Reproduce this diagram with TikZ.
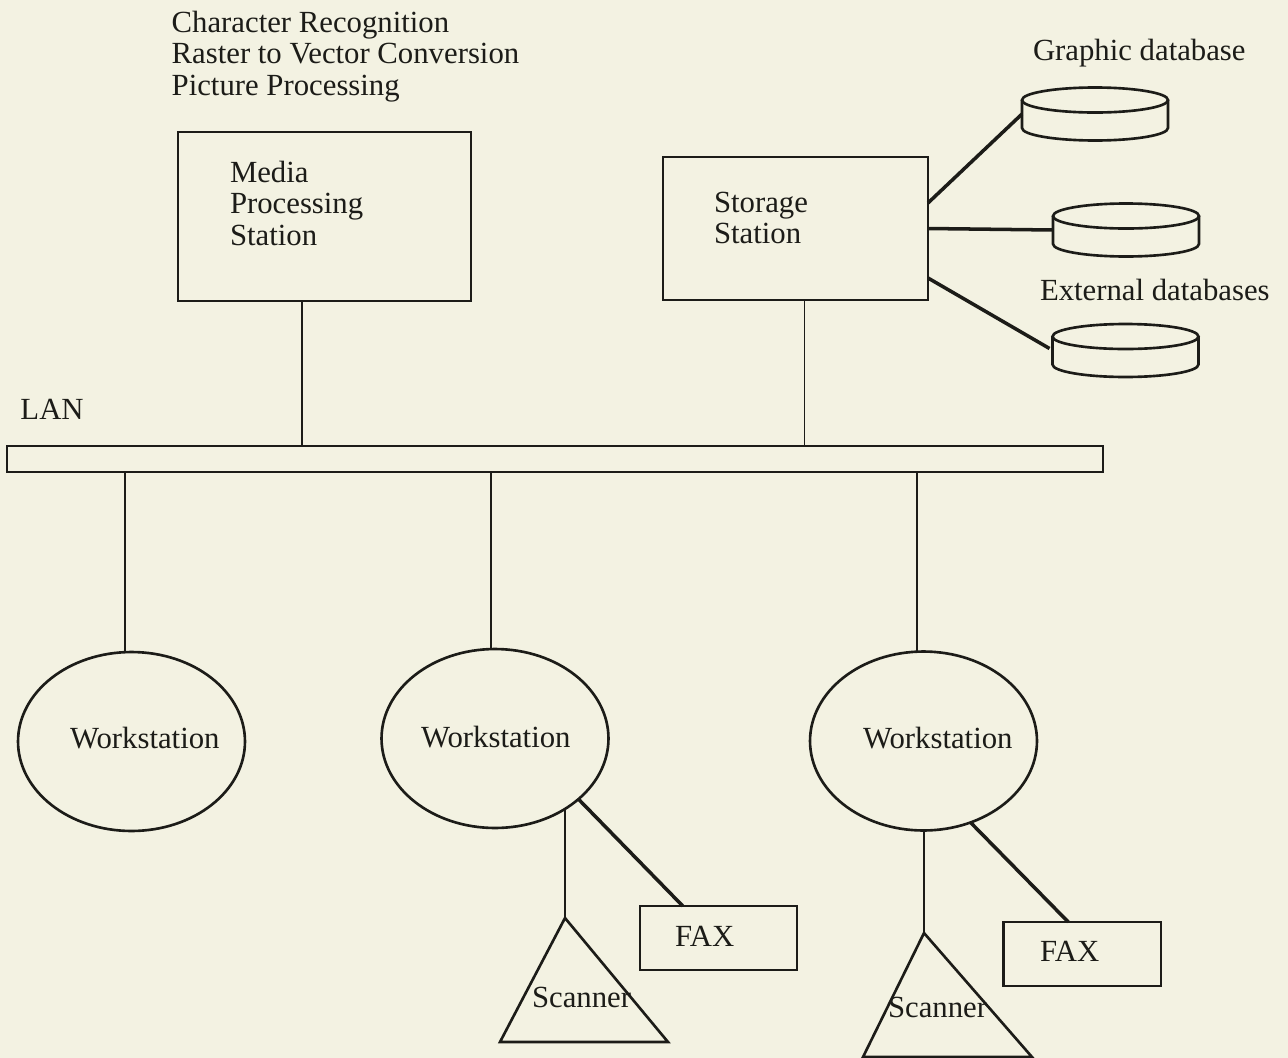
\documentclass[tikz,border=0pt]{standalone}
\usepackage{fontspec}
\setmainfont{Liberation Serif}
\usetikzlibrary{calc,shapes.geometric}
\definecolor{paper}{RGB}{243,242,226}
\definecolor{ink}{RGB}{28,28,24}
\begin{document}
\begin{tikzpicture}[x=0.02cm,y=-0.02cm,
  every node/.style={font=\fontsize{17.5}{18}\selectfont, text=ink, inner sep=0pt, outer sep=0pt},
  station/.style={draw=ink, line width=1.5pt, rectangle},
  ws/.style={draw=ink, line width=1.5pt, ellipse, minimum width=4.54cm, minimum height=3.58cm},
  faxbox/.style={draw=ink, line width=1.4pt, rectangle, minimum width=3.15cm, minimum height=1.28cm},
  dbnode/.style={rectangle, minimum width=2.92cm, minimum height=1.06cm},
  dbline/.style={draw=ink, line width=1.5pt},
  thinlink/.style={draw=ink, line width=1.0pt},
  heavylink/.style={draw=ink, line width=2.0pt},
  scanline/.style={draw=ink, line width=1.5pt, line join=miter},
  txt/.style={anchor=base west},
  block/.style={anchor=north west, align=left}
]
\fill[paper] (0,0) rectangle (1288,1058);
\useasboundingbox (0,0) rectangle (1288,1058);

% top task list
\node[block] (tasks) at (171.7,10.7) {Character Recognition\\Raster to Vector Conversion\\Picture Processing};

% stations
\node[station, minimum width=5.86cm, minimum height=3.38cm] (media) at (324.5,216.5) {};
\node[block] (mediatext) at (230,161) {Media\\Processing\\Station};
\node[station, minimum width=5.3cm, minimum height=2.86cm] (storage) at (795.5,228.5) {};
\node[block] (storagetext) at (714,192) {Storage\\Station};

% databases
\node[dbnode] (db1) at (1095,114) {};
\node[dbnode] (db2) at (1126,230) {};
\node[dbnode] (db3) at (1125.5,350.5) {};
\foreach \d in {db1,db2,db3}{
  \draw[dbline] ($(\d.north)+(0,12.5)$) ellipse [x radius=1.46cm, y radius=0.25cm];
  \draw[dbline] ($(\d.north west)+(0,12.5)$) -- ($(\d.south west)+(0,-12.5)$)
     arc[start angle=180, end angle=360, x radius=1.46cm, y radius=0.25cm]
     -- ($(\d.north east)+(0,12.5)$);
}
\node[txt] (gdb) at (1033,60) {Graphic database};
\node[txt] (edb) at (1040,300) {External databases};
\draw[heavylink] ($(storage.north east)+(0,46)$) -- (db1.west);
\draw[heavylink] (storage.east) -- (db2.west);
\draw[heavylink] ($(storage.south east)+(0,-22)$) -- ($(db3.west)+(-3,-2)$);

% LAN
\node[txt] (lanlabel) at (20.5,419) {LAN};
\node[draw=ink, line width=1.3pt, rectangle, minimum width=21.93cm, minimum height=0.52cm] (lan) at (554.8,459) {};
\coordinate (lm) at (302,446);
\coordinate (ls) at (804.5,446);
\draw[thinlink] (media.south -| lm) -- (lm);
\draw[thinlink] (storage.south -| ls) -- (ls);

% workstations
\node[ws] (ws1) at (131.5,741.5) {};
\node[ws] (ws2) at (495,738.5) {};
\node[ws] (ws3) at (923.5,741) {};
\node[txt] (ws1t) at (70,748) {Workstation};
\node[txt] (ws2t) at (421,747) {Workstation};
\node[txt] (ws3t) at (863,748) {Workstation};
\coordinate (t1) at (125,472);
\coordinate (t2) at (491,472);
\coordinate (t3) at (917,472);
\draw[thinlink] (t1) -- (t1 |- ws1.north);
\draw[thinlink] (t2) -- (t2 |- ws2.north);
\draw[thinlink] (t3) -- (t3 |- ws3.north);

% scanners
\coordinate (s2a) at (565,918);
\coordinate (s2l) at (500,1042);
\coordinate (s2r) at (668,1042);
\draw[scanline] (s2a) -- (s2l) -- (s2r) -- cycle;
\node[txt] (s2t) at (532,1007) {Scanner};
\draw[thinlink] (s2a) -- (s2a |- ws2.-45);

\coordinate (s3a) at (924,933);
\coordinate (s3l) at (863,1057);
\coordinate (s3r) at (1032,1057);
\draw[scanline] (s3a) -- (s3l) -- (s3r) -- cycle;
\node[txt] (s3t) at (888,1017) {Scanner};
\draw[thinlink] (s3a) -- (s3a |- ws3.south);

% fax
\node[faxbox] (fax2) at (718.5,938) {};
\node[txt] (fax2t) at (675,946) {FAX};
\node[faxbox] (fax3) at (1082,954) {};
\node[txt] (fax3t) at (1040,961) {FAX};
\draw[heavylink] (ws2.-36) -- ($(fax2.north west)+(43,0)$);
\draw[heavylink] (ws3.-60) -- ($(fax3.north west)+(65,0)$);
\end{tikzpicture}
\end{document}
